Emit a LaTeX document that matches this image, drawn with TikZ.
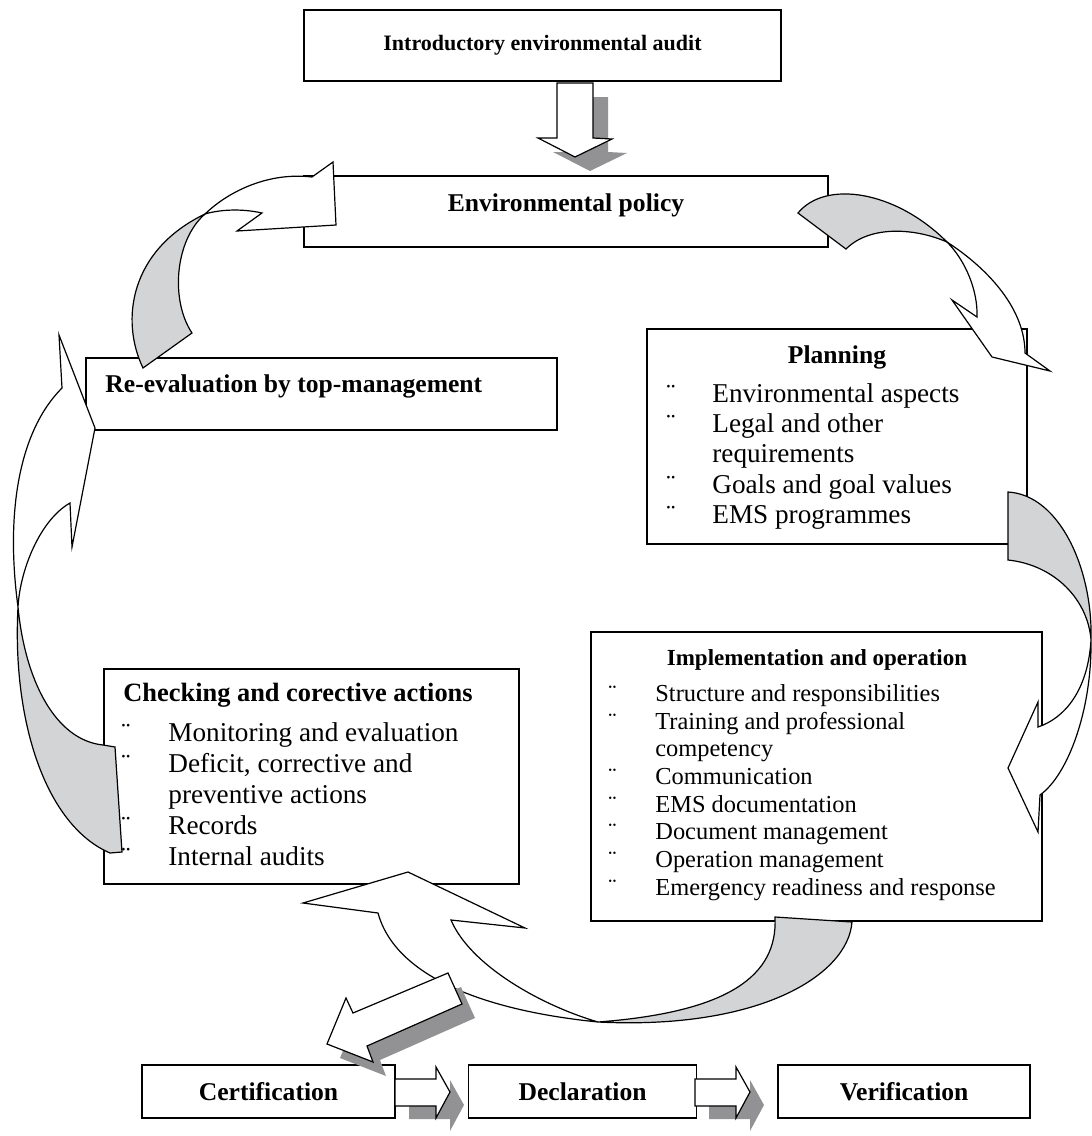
\documentclass[tikz,border=0pt]{standalone}
\usepackage{fontspec}
\setmainfont{Liberation Serif}
\usetikzlibrary{positioning}
\definecolor{ribbon}{RGB}{211,212,214}
\definecolor{shade}{RGB}{146,146,148}

\tikzset{
  box/.style={draw, line width=0.8pt, inner sep=0pt},
  head/.style={font=\fontsize{12.8pt}{15pt}\selectfont\bfseries, inner sep=0pt},
  item/.style={font=\fontsize{13.6pt}{16pt}\selectfont, inner sep=0pt, anchor=base west},
  smallitem/.style={item, font=\fontsize{12.2pt}{14pt}\selectfont},
  back/.style={draw, line width=0.6pt, fill=ribbon},
  front/.style={draw, line width=0.6pt, fill=white},
  shadow/.style={fill=shade}
}

\begin{document}
\begin{tikzpicture}[x=0.5pt, y=-0.5pt]
  \useasboundingbox (0,0) rectangle (1092,1136);

  % nodes
  \node[box, minimum width=238.5pt, minimum height=35.5pt, font=\fontsize{11pt}{13pt}\selectfont\bfseries] (intro) at (542.5,45.5) {Introductory environmental audit};
  \node[box, minimum width=262pt, minimum height=35.5pt] (pol) at (566,211.5) {};
  \node[box, minimum width=235.5pt, minimum height=36pt] (reev) at (321.5,394) {};
  \node[box, minimum width=190pt, minimum height=107.5pt] (plan) at (837,436.5) {};
  \node[box, minimum width=225.5pt, minimum height=144.5pt] (impl) at (816.5,776.5) {};
  \node[box, minimum width=207.5pt, minimum height=107.5pt] (chk) at (311.5,776.5) {};
  \node[box, head, minimum width=126.5pt, minimum height=26.5pt] (cert) at (268.5,1091.5) {Certification};
  \node[box, head, minimum width=114pt, minimum height=26.5pt, right=36pt of cert] (decl) {Declaration};
  \node[box, head, minimum width=126pt, minimum height=26.5pt, right=40pt of decl] (verif) {Verification};

  % edges
  % audit -> policy
  \fill[shadow, shift={(15,14)}] (557,83) -- (593,83) -- (593,138) -- (612,139) -- (575,157) -- (538,138) -- (557,138) -- cycle;
  \draw[front] (557,83) -- (593,83) -- (593,138) -- (612,139) -- (575,157) -- (538,138) -- (557,138) -- cycle;
  % policy -> planning
  \draw[back] (798,213) -- (846,249) .. controls (870,225) and (915,228) .. (947,242) .. controls (895,190) and (825,180) .. cycle;
  \draw[front] (947,242) .. controls (965,260) and (978,290) .. (977,317) -- (952,300) -- (992,357) -- (1050,371) -- (1025,353) .. controls (1025,310) and (990,270) .. cycle;
  % planning -> implementation
  \draw[back] (1008,492) -- (1008,560) .. controls (1055,565) and (1088,600) .. (1091,640) .. controls (1093,570) and (1060,495) .. cycle;
  \draw[front] (1091,640) .. controls (1088,690) and (1065,718) .. (1038,727) -- (1038,702) -- (1008,768) -- (1038,832) -- (1040,795) .. controls (1068,775) and (1092,710) .. cycle;
  % implementation -> checking
  \draw[back] (775,917) -- (852,922) .. controls (848,975) and (760,1030) .. (598,1022) .. controls (730,1012) and (778,975) .. cycle;
  \draw[front] (598,1022) .. controls (540,1005) and (470,965) .. (451,920) -- (525,928) -- (408,872) -- (303,903) -- (378,913) .. controls (395,975) and (480,1010) .. cycle;
  % checking -> re-evaluation
  \draw[back] (103,745) -- (115,747) -- (122,852) -- (110,853) .. controls (45,825) and (12,720) .. (18,607) .. controls (25,680) and (55,740) .. cycle;
  \draw[front] (18,607) .. controls (5,510) and (20,430) .. (62,388) -- (59,335) -- (95,428) -- (72,547) -- (70,503) .. controls (40,520) and (20,570) .. cycle;
  % re-evaluation -> policy
  \draw[back] (143,368) -- (192,333) .. controls (170,300) and (175,240) .. (205,214) .. controls (130,250) and (120,320) .. cycle;
  \draw[front] (205,214) .. controls (230,190) and (270,172) .. (312,177) -- (333,162) -- (336,225) -- (237,231) -- (262,213) .. controls (240,208) and (218,210) .. cycle;
  % cycle -> certification
  \fill[shadow, shift={(13,14)}] (448,973) -- (353,1013) -- (346,998) -- (327,1044) -- (373,1062) -- (367,1046) -- (462,1004) -- cycle;
  \draw[front] (448,973) -- (353,1013) -- (346,998) -- (327,1044) -- (373,1062) -- (367,1046) -- (462,1004) -- cycle;
  % certification -> declaration -> verification
  \foreach \dx in {0,300} {
    \fill[shadow, shift={(\dx+14,13)}] (395,1079) -- (436,1079) -- (436,1067) -- (450,1092) -- (436,1118) -- (436,1106) -- (395,1106) -- cycle;
    \draw[front, shift={(\dx,0)}] (395,1079) -- (436,1079) -- (436,1067) -- (450,1092) -- (436,1118) -- (436,1106) -- (395,1106) -- cycle;
  }

  % texts
  \node[head, anchor=base] (polt) at (566,211) {Environmental policy};
  \node[head, anchor=base west] (reevt) at (105,392) {Re-evaluation by top-management};

  \node[head, anchor=base] (plant) at (837,363) {Planning};
  \foreach \y/\txt in {402/Environmental aspects, 432/Legal and other, 462/requirements, 493/Goals and goal values, 523/EMS programmes}
    \node[item] (pl\y) at (712,\y) {\txt};
  \foreach \y in {402,432,493,523}
    \node[item] (plb\y) at (666,\y) {¨};

  \node[head, anchor=base, font=\fontsize{11.5pt}{13pt}\selectfont\bfseries] (implt) at (817,665) {Implementation and operation};
  \foreach \y/\txt in {701/Structure and responsibilities, 729/Training and professional, 756/competency, 784/Communication, 812/EMS documentation, 839/Document management, 867/Operation management, 895/Emergency readiness and response}
    \node[smallitem] (im\y) at (655,\y) {\txt};
  \foreach \y in {701,729,784,812,839,867,895}
    \node[smallitem] (imb\y) at (608,\y) {¨};

  \node[head, anchor=base west, font=\fontsize{13.2pt}{15pt}\selectfont\bfseries] (chkt) at (123,701) {Checking and corective actions};
  \foreach \y/\txt in {741/Monitoring and evaluation, 772/{Deficit, corrective and}, 803/preventive actions, 834/Records, 865/Internal audits}
    \node[item] (ch\y) at (168,\y) {\txt};
  \foreach \y in {741,772,834,865}
    \node[item] (chb\y) at (121,\y) {¨};
\end{tikzpicture}
\end{document}
